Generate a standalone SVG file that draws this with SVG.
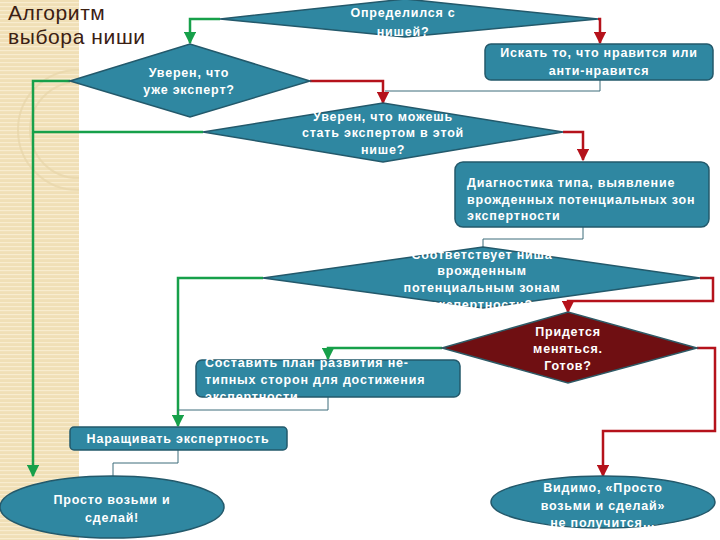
<svg xmlns="http://www.w3.org/2000/svg" width="720" height="540" viewBox="0 0 720 540">
<defs>
<pattern id="stripes" width="6" height="4" patternUnits="userSpaceOnUse">
<rect width="6" height="4" fill="#f0dfb6"/>
<rect y="2" width="6" height="1.2" fill="#f8eccf"/>
</pattern>
<clipPath id="stripClip"><rect x="0" y="0" width="79" height="540"/></clipPath>
<marker id="ag" viewBox="0 0 10 10" refX="9" refY="5" markerWidth="5" markerHeight="5" orient="auto">
<path d="M0,0 L10,5 L0,10 z" fill="#17a04a"/>
</marker>
<marker id="ar" viewBox="0 0 10 10" refX="9" refY="5" markerWidth="5" markerHeight="5" orient="auto">
<path d="M0,0 L10,5 L0,10 z" fill="#b5121b"/>
</marker>
</defs>
<style>
.t{font-family:"Liberation Sans",Arial,sans-serif;font-weight:bold;font-size:12.5px;fill:#ffffff;letter-spacing:0.8px}
.c{text-anchor:middle}
.shape{fill:#2f87a1;stroke:#23596b;stroke-width:1.5}
.dark{fill:#6f0f12;stroke:#2e5a66;stroke-width:1.5}
.g{fill:none;stroke:#17a04a;stroke-width:2.5}
.r{fill:none;stroke:#b5121b;stroke-width:2.5}
.k{fill:none;stroke:#3d6d7a;stroke-width:1}
.title{font-family:"Liberation Sans",Arial,sans-serif;font-size:21px;letter-spacing:0.6px;fill:#3b2013}
</style>
<rect width="720" height="540" fill="#ffffff"/>
<rect x="0" y="0" width="79" height="540" fill="url(#stripes)"/>
<g clip-path="url(#stripClip)" fill="none" stroke="#e8d6aa" stroke-width="2" opacity="0.7">
<circle cx="78" cy="130" r="60"/>
<circle cx="78" cy="130" r="48"/>
</g>
<g id="title">
<text class="title" x="8" y="20">Алгоритм</text>
<text class="title" x="8" y="44">выбора ниши</text>
</g>
<g id="connectors">
<polyline class="g" points="220,19 190,19 190,43" marker-end="url(#ag)"/>
<polyline class="r" points="598,19 600,19 600,43" marker-end="url(#ar)"/>
<polyline class="k" points="600,80 600,91 385,91"/>
<polyline class="r" points="310,81 383,81 383,103" marker-end="url(#ar)"/>
<polyline class="g" points="70,81 33,81 33,476" marker-end="url(#ag)"/>
<polyline class="g" points="203,132 33,132"/>
<polyline class="r" points="563,132 583,132 583,160" marker-end="url(#ar)"/>
<polyline class="k" points="583,227 583,239 483,239 483,247"/>
<polyline class="g" points="263,278 178,278 178,426" marker-end="url(#ag)"/>
<polyline class="r" points="700,278 713,278 713,301 568,301 568,312" marker-end="url(#ar)"/>
<polyline class="g" points="442,348 328,348 328,359" marker-end="url(#ag)"/>
<polyline class="r" points="697,348 715,348 715,431 603,431 603,476" marker-end="url(#ar)"/>
<polyline class="k" points="328,397 328,410 178,410"/>
<polyline class="k" points="178,450 178,463 113,463 113,476"/>
</g>
<g id="n1">
<polygon class="shape" points="220,19 405,-1 598,19 405,37"/>
<text class="t c" x="403" y="17">Определился с</text>
<text class="t c" x="403" y="36">нишей?</text>
</g>
<g id="n2">
<rect class="shape" x="485" y="44" width="228" height="36" rx="6"/>
<text class="t c" x="599" y="57">Искать то, что нравится или</text>
<text class="t c" x="599" y="75">анти-нравится</text>
</g>
<g id="n3">
<polygon class="shape" points="70,81 190,44 310,81 190,117"/>
<text class="t c" x="189" y="77">Уверен, что</text>
<text class="t c" x="189" y="94">уже эксперт?</text>
</g>
<g id="n4">
<polygon class="shape" points="203,132 383,103 563,132 383,162"/>
<text class="t c" x="383" y="121">Уверен, что можешь</text>
<text class="t c" x="383" y="137">стать экспертом в этой</text>
<text class="t c" x="383" y="154">нише?</text>
</g>
<g id="n5">
<rect class="shape" x="455" y="162" width="254" height="65" rx="8"/>
<text class="t" x="467" y="187">Диагностика типа, выявление</text>
<text class="t" x="467" y="204">врожденных потенциальных зон</text>
<text class="t" x="467" y="220">экспертности</text>
</g>
<g id="n6">
<polygon class="shape" points="263,278 483,247 700,278 483,308"/>
<text class="t c" x="482" y="259">Соответствует ниша</text>
<text class="t c" x="482" y="275">врожденным</text>
<text class="t c" x="482" y="292">потенциальным зонам</text>
<text class="t c" x="482" y="309">экспертности?</text>
</g>
<g id="n7">
<polygon class="dark" points="442,348 568,312 697,348 568,383"/>
<text class="t c" x="568" y="336">Придется</text>
<text class="t c" x="568" y="353">меняться.</text>
<text class="t c" x="568" y="370">Готов?</text>
</g>
<g id="n8">
<rect class="shape" x="196" y="360" width="264" height="37" rx="6"/>
<text class="t" x="205" y="367">Составить план развития не-</text>
<text class="t" x="205" y="384">типных сторон для достижения</text>
<text class="t" x="205" y="401">экспертности</text>
</g>
<g id="n9">
<rect class="shape" x="70" y="427" width="217" height="23" rx="4"/>
<text class="t c" x="178" y="443">Наращивать экспертность</text>
</g>
<g id="n10">
<ellipse class="shape" cx="112" cy="507" rx="112" ry="31"/>
<text class="t c" x="112" y="504">Просто возьми и</text>
<text class="t c" x="112" y="522">сделай!</text>
</g>
<g id="n11">
<ellipse class="shape" cx="603" cy="502" rx="112" ry="26"/>
<text class="t c" x="603" y="492">Видимо, «Просто</text>
<text class="t c" x="603" y="510">возьми и сделай»</text>
<text class="t c" x="603" y="527">не получится…</text>
</g>
</svg>
